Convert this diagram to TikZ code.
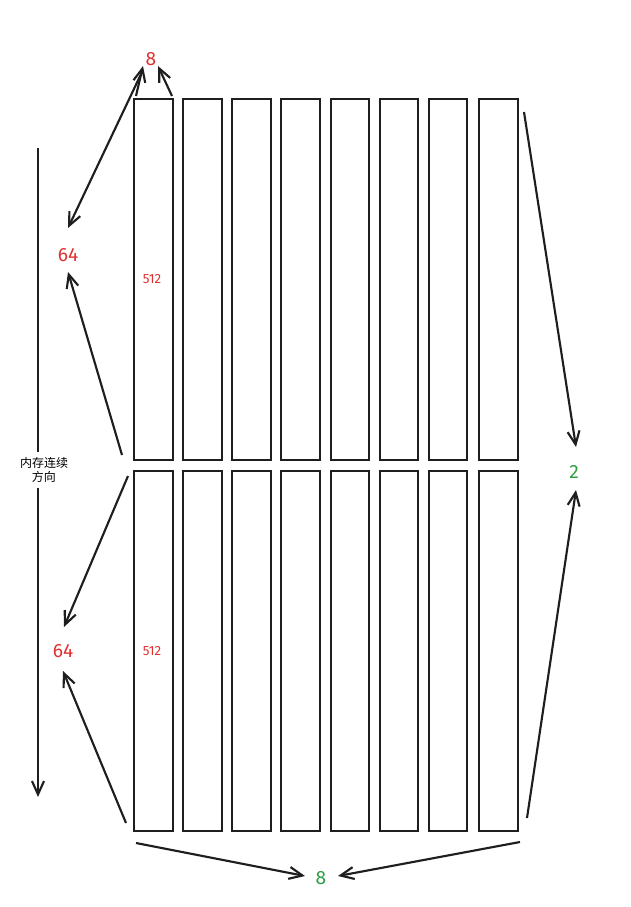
\documentclass[tikz,border=0pt]{standalone}
\usepackage{fontspec}
\setmainfont{Fira Sans}
\newfontfamily\cjk{Noto Sans CJK SC}
\usetikzlibrary{arrows.meta}
\definecolor{myred}{HTML}{E03131}
\definecolor{mygreen}{HTML}{2F9E44}
\definecolor{ink}{HTML}{1E1E1E}
\begin{document}
\begin{tikzpicture}[x=0.75pt,y=-0.75pt,
 col/.style={draw=ink,line width=1.2pt},
 arr/.style={draw=ink,line width=1.6pt,-{Straight Barb[length=10pt,width=9pt]}},
 rl/.style={text=myred,font=\Large},
 gl/.style={text=mygreen,font=\Large},
 sl/.style={text=myred,font=\normalsize}]
\useasboundingbox (0,0) rectangle (631,907);
\foreach \x/\w [count=\i] in {134/39,183/39,232/39,281/39,331/38,380/38,429/38,479/39}{
  \draw[col] (\x,99) rectangle ++(\w,361);
  \draw[col] (\x,471) rectangle ++(\w,360);
}
\node[rl] (t8) at (151,59) {8};
\node[rl] (l64a) at (68,255) {64};
\node[sl] (s1) at (152,279) {512};
\node[rl] (l64b) at (63,651) {64};
\node[sl] (s2) at (152,651) {512};
\node[gl] (r2) at (574,472) {2};
\node[gl] (b8) at (321,878) {8};
\node[font=\small\cjk,align=center] (mem) at (44,470) {内存连续\\方向};
\coordinate (v1) at (38,148);
\coordinate (v2) at (38,797);
\draw[ink,line width=1.6pt] (v1) -- (mem.north -| v1);
\draw[arr] (mem.south -| v1) -- (v2);
\coordinate (a1) at (136,96); \coordinate (a2) at (172,96);
\draw[arr] (a1) -- (143,66);
\draw[arr] (a2) -- (158,66);
\draw[arr] (142,72) -- (68,228);
\draw[arr] (122,455) -- (68,272);
\draw[arr] (128,476) -- (64,627);
\draw[arr] (126,823) -- (63,671);
\draw[arr] (524,112) -- (576,447);
\draw[arr] (527,818) -- (576,490);
\draw[arr] (136,843) -- (305,876);
\draw[arr] (520,842) -- (338,876);
\end{tikzpicture}
\end{document}
